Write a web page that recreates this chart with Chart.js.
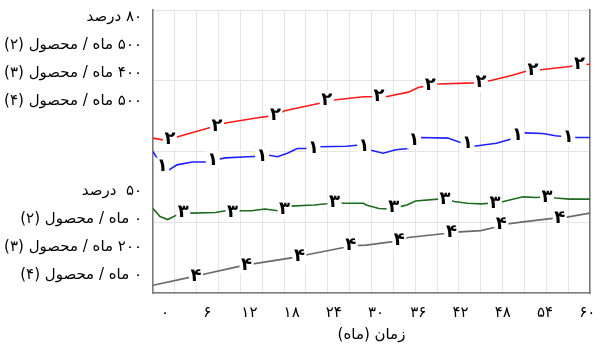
<!DOCTYPE html>
<html>
<head>
<meta charset="utf-8">
<script src="https://cdn.jsdelivr.net/npm/chart.js@4"></script>
<style>
    html, body { margin: 0; padding: 0; background: #fff; }
    #wrap { width: 604px; height: 347px; position: relative; }
    #chart { direction: rtl; }
</style>
</head>
<body>
<div id="wrap"><canvas id="chart"></canvas></div>
<script>
// months on the x axis (percent scale of the label axis)
const xTicks = [0, 6, 12, 18, 24, 30, 36, 42, 48, 54, 60];
const yTicks = [50, 80];
const topLabels = ['۸۰ درصد', '۵۰۰ ماه / محصول (۲)', '۴۰۰ ماه / محصول (۳)', '۵۰۰ ماه / محصول (۴)'];
const bottomLabels = ['۵۰  درصد', '۰ ماه / محصول (۲)', '۲۰۰ ماه / محصول (۳)', '۰ ماه / محصول (۴)'];

// series 1 (blue)
const months1 = [-1.7, -0.4, 0.3, 1.7, 3.9, 5.8, 6.8, 8.6, 11.8, 13.8, 14.6, 16.0, 17.4, 18.8, 19.8, 21.1, 22.0, 25.8, 27.6, 28.3, 29.3, 31.0, 32.8, 34.6, 35.4, 36.3, 40.2, 42.1, 43.0, 43.9, 47.1, 49.1, 50.1, 51.2, 53.7, 55.5, 57.3, 58.3, 60.4];
const values1 = [64.1, 61.5, 60.7, 61.8, 62.3, 62.3, 62.6, 63.0, 63.2, 63.3, 63.5, 63.2, 63.8, 64.6, 64.6, 64.7, 64.9, 65.0, 65.2, 65.0, 64.3, 63.8, 64.4, 64.6, 66.1, 66.5, 66.4, 65.6, 65.5, 65.0, 65.5, 66.2, 66.9, 67.3, 67.2, 66.8, 66.6, 66.5, 66.5];
const marks1 = [-0.4, 6.8, 13.8, 21.1, 28.3, 35.4, 43.0, 50.1, 57.3];

// series 2 (red)
const months2 = [-1.7, -0.3, 0.7, 1.7, 6.7, 7.4, 8.6, 13.2, 15.7, 17.0, 22.0, 23.0, 24.4, 28.2, 30.4, 31.4, 34.6, 36.0, 37.7, 38.8, 43.9, 44.9, 46.3, 49.1, 51.3, 52.3, 53.7, 57.5, 58.9, 60.4];
const values2 = [66.4, 66.1, 66.2, 66.6, 68.3, 68.5, 69.0, 69.9, 70.3, 71.1, 72.4, 72.9, 73.0, 73.5, 73.5, 73.5, 74.3, 75.1, 75.5, 75.7, 75.9, 76.0, 76.3, 77.1, 77.9, 78.1, 78.2, 78.7, 79.0, 79.1];
const marks2 = [0.7, 7.4, 15.7, 23.0, 30.4, 37.7, 44.9, 52.3, 58.9];

// series 3 (green)
const months3 = [-1.7, -0.7, 0.4, 1.7, 2.6, 3.7, 7.2, 8.6, 9.6, 10.7, 12.3, 14.2, 16.0, 17.0, 17.8, 21.2, 23.0, 24.1, 25.4, 28.2, 28.6, 30.4, 31.7, 32.5, 33.7, 34.4, 35.6, 38.8, 39.8, 41.1, 43.0, 44.9, 46.3, 46.9, 48.1, 50.9, 52.7, 54.3, 55.5, 57.5, 60.4];
const values3 = [54.3, 52.9, 52.4, 53.2, 53.6, 53.5, 53.6, 53.9, 53.7, 53.9, 53.9, 54.2, 53.9, 54.2, 54.7, 54.9, 55.1, 55.3, 55.2, 55.2, 54.9, 54.3, 54.2, 54.5, 54.7, 54.9, 55.6, 55.9, 55.9, 55.5, 55.2, 55.1, 55.2, 55.2, 55.5, 56.3, 56.2, 56.3, 56.1, 55.9, 55.9];
const marks3 = [2.6, 9.6, 17.0, 24.1, 32.5, 39.8, 46.9, 54.3];

// series 4 (gray)
const months4 = [-1.7, 2.5, 4.4, 10.4, 11.6, 18.4, 19.1, 25.4, 26.4, 28.6, 32.4, 33.3, 34.6, 39.8, 40.7, 44.9, 47.1, 47.8, 50.9, 55.1, 56.1, 60.4];
const values4 = [41.1, 42.2, 42.7, 44.3, 44.6, 45.9, 46.1, 47.6, 47.9, 48.0, 48.6, 48.9, 49.3, 50.0, 50.2, 50.5, 51.1, 51.5, 52.0, 52.6, 52.6, 53.5];
const marks4 = [4.4, 11.6, 19.1, 26.4, 33.3, 40.7, 47.8, 56.1];

const fa = n => String(n).replace(/\d/g, d => '۰۱۲۳۴۵۶۷۸۹'[d]);
const pts = (ms, vs) => ms.map((m, i) => ({ x: m, y: vs[i] }));

const FONT = 'DejaVu Sans';
const BORDER = '#7a7a7a';
const GRID = '#e4e4e4';

const makeSeries = (tag, color, ms, vs, marks) => ({
    label: tag,
    tag: tag,
    marks: marks,
    data: pts(ms, vs),
    borderColor: color,
    borderWidth: 1.6,
    pointRadius: 0,
    tension: 0,
    fill: false,
    xAxisID: 'x',
    yAxisID: 'yl'
});

// draws the series number on the line, with a white gap behind it
const inlineMarks = {
    id: 'inlineMarks',
    afterDatasetsDraw(chart) {
        const ctx = chart.ctx;
        ctx.save();
        ctx.font = 'bold 18px "' + FONT + '"';
        ctx.textAlign = 'center';
        ctx.textBaseline = 'middle';
        chart.data.datasets.forEach((ds, i) => {
            const meta = chart.getDatasetMeta(i);
            ds.marks.forEach(m => {
                const idx = ds.data.findIndex(p => p.x === m);
                const pt = meta.data[idx];
                if (!pt) return;
                ctx.fillStyle = '#fff';
                ctx.fillRect(pt.x - 7, pt.y - 9, 14, 18);
                ctx.fillStyle = '#000';
                ctx.fillText(ds.tag, pt.x, pt.y);
            });
        });
        ctx.restore();
    }
};

const noEdgePadding = axis => {
    axis.paddingTop = 0;
    axis.paddingBottom = 0;
    axis.paddingLeft = 0;
    axis.paddingRight = 0;
};

const ctx = document.getElementById('chart').getContext('2d');
new Chart(ctx, {
    type: 'line',
    data: {
        datasets: [
            makeSeries('۱', '#1f1fff', months1, values1, marks1),
            makeSeries('۲', '#ff1a1a', months2, values2, marks2),
            makeSeries('۳', '#1f6b1f', months3, values3, marks3),
            makeSeries('۴', '#6a6a6a', months4, values4, marks4)
        ]
    },
    options: {
        responsive: true,
        maintainAspectRatio: false,
        animation: false,
        layout: { padding: { top: 10, right: 6, left: 0, bottom: 0 } },
        plugins: {
            legend: { display: false },
            tooltip: { enabled: false }
        },
        scales: {
            xg: {
                type: 'linear',
                position: 'bottom',
                weight: 0,
                min: 0,
                max: 20,
                ticks: { display: false, stepSize: 1 },
                grid: { color: GRID, drawTicks: false },
                border: { color: BORDER, width: 1.5 }
            },
            x: {
                type: 'linear',
                position: 'bottom',
                weight: 1,
                min: -1.7,
                max: 60.4,
                grid: { display: false },
                border: { display: false },
                afterBuildTicks: axis => { axis.ticks = xTicks.map(v => ({ value: v })); },
                afterFit: axis => { axis.height = 54; noEdgePadding(axis); },
                ticks: {
                    autoSkip: false,
                    maxRotation: 0,
                    padding: 3,
                    color: '#000',
                    font: { family: FONT, size: 15 },
                    callback: v => fa(v)
                },
                title: {
                    display: true,
                    text: 'زمان (ماه)',
                    color: '#000',
                    font: { family: FONT, size: 15 },
                    padding: { top: 0, bottom: 3 }
                }
            },
            y: {
                type: 'linear',
                position: 'left',
                weight: 0,
                min: 0,
                max: 4,
                ticks: { display: false, stepSize: 1 },
                grid: { color: GRID, drawTicks: false },
                border: { color: BORDER, width: 1.5 }
            },
            yl: {
                type: 'linear',
                position: 'left',
                weight: 1,
                min: 39.77,
                max: 88.42,
                grid: { display: false },
                border: { display: false },
                afterBuildTicks: axis => { axis.ticks = yTicks.map(v => ({ value: v })); },
                afterFit: axis => { axis.width = 153; noEdgePadding(axis); },
                ticks: {
                    autoSkip: false,
                    padding: 3,
                    color: '#000',
                    font: { family: FONT, size: 15, lineHeight: '28px' },
                    callback: (v, i) => (i === 1 ? topLabels : bottomLabels)
                }
            },
            yr: {
                type: 'linear',
                position: 'right',
                min: 0,
                max: 4,
                ticks: { display: false },
                grid: { display: false },
                border: { color: BORDER, width: 1.5 }
            }
        }
    },
    plugins: [inlineMarks]
});
</script>
</body>
</html>
